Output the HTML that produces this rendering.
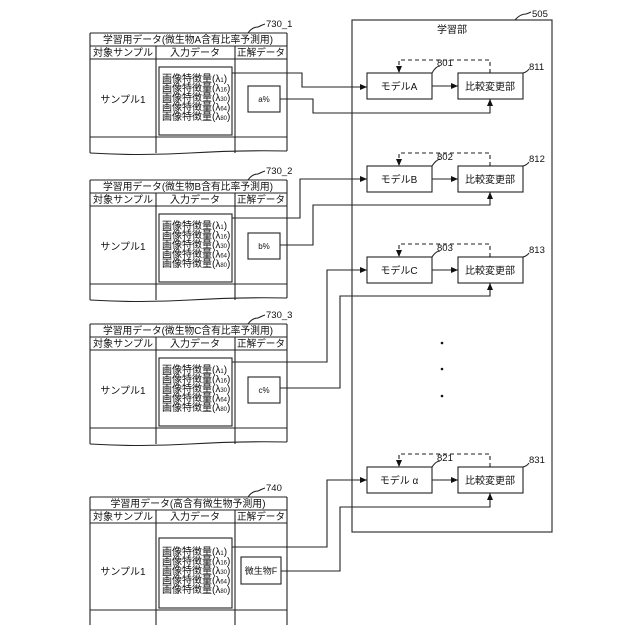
<!DOCTYPE html>
<html><head><meta charset="utf-8"><style>
body{margin:0;background:#fff}
svg{display:block}
text{font-family:"Liberation Sans","Noto Sans CJK JP",sans-serif;fill:#111}
</style></head><body>
<svg width="640" height="640" viewBox="0 0 640 640" xmlns="http://www.w3.org/2000/svg">
<defs>
<marker id="ar" markerWidth="8" markerHeight="8" refX="7" refY="4" orient="auto" markerUnits="userSpaceOnUse">
<path d="M0,1 L7,4 L0,7 Z" fill="#111"/></marker>
</defs>
<g stroke="#222" stroke-width="1.1" fill="none">

<g transform="translate(0,33)">
<path d="M90,0 H287 M90,13 H287 M90,26 H287 M90,104 H287 M90,0 V120 M287,0 V118 M156,13 V120 M235,13 V120"/>
<path d="M90,120 Q140,123 190,120 T287,118"/>
<rect x="159" y="34" width="73" height="68"/>
<rect x="248" y="53" width="32" height="26"/>
</g>
<g transform="translate(0,180)">
<path d="M90,0 H287 M90,13 H287 M90,26 H287 M90,104 H287 M90,0 V120 M287,0 V118 M156,13 V120 M235,13 V120"/>
<path d="M90,120 Q140,123 190,120 T287,118"/>
<rect x="159" y="34" width="73" height="68"/>
<rect x="248" y="53" width="32" height="26"/>
</g>
<g transform="translate(0,324)">
<path d="M90,0 H287 M90,13 H287 M90,26 H287 M90,104 H287 M90,0 V120 M287,0 V118 M156,13 V120 M235,13 V120"/>
<path d="M90,120 Q140,123 190,120 T287,118"/>
<rect x="159" y="34" width="73" height="68"/>
<rect x="248" y="53" width="32" height="26"/>
</g>
<g transform="translate(0,497)">
<path d="M90,0 H287 M90,13 H287 M90,26 H287 M90,113 H287 M90,0 V128 M287,0 V128 M156,13 V128 M235,13 V128"/>
<rect x="159" y="41" width="73" height="70"/>
<rect x="241" y="60" width="40" height="27"/>
</g>

<rect x="352" y="20" width="200" height="512"/>
<path d="M515,20 Q520,14 526,14 Q529,13 531,12"/>

<rect x="367" y="73" width="65" height="26"/>
<rect x="458" y="73" width="65" height="26"/>
<rect x="367" y="166" width="65" height="26"/>
<rect x="458" y="166" width="65" height="26"/>
<rect x="367" y="257" width="65" height="26"/>
<rect x="458" y="257" width="65" height="26"/>
<rect x="367" y="467" width="65" height="26"/>
<rect x="458" y="467" width="65" height="26"/>

<path d="M432,86 H458" marker-end="url(#ar)"/>
<path d="M432,179 H458" marker-end="url(#ar)"/>
<path d="M432,270 H458" marker-end="url(#ar)"/>
<path d="M432,480 H458" marker-end="url(#ar)"/>

<path d="M490,73 V60 H399 V73" stroke-dasharray="4,3" marker-end="url(#ar)"/>
<path d="M490,166 V153 H399 V166" stroke-dasharray="4,3" marker-end="url(#ar)"/>
<path d="M490,257 V244 H399 V257" stroke-dasharray="4,3" marker-end="url(#ar)"/>
<path d="M490,467 V454 H399 V467" stroke-dasharray="4,3" marker-end="url(#ar)"/>

<path d="M232,73 H302 V87 H367" marker-end="url(#ar)"/>
<path d="M232,218 H300 V179 H367" marker-end="url(#ar)"/>
<path d="M232,362 H327 V270 H367" marker-end="url(#ar)"/>
<path d="M232,547 H327 V480 H367" marker-end="url(#ar)"/>
<path d="M280,99 H313 V113 H490 V99" marker-end="url(#ar)"/>
<path d="M280,245 H313 V205 H490 V192" marker-end="url(#ar)"/>
<path d="M280,388 H340 V296 H490 V283" marker-end="url(#ar)"/>
<path d="M281,571 H340 V507 H490 V493" marker-end="url(#ar)"/>

<path d="M432,73 Q436,66 440,66"/>
<path d="M523,73 Q527,72 529,69"/>
<path d="M432,166 Q436,160 440,159"/>
<path d="M523,166 Q527,165 529,162"/>
<path d="M432,257 Q436,251 440,251"/>
<path d="M523,257 Q527,256 529,253"/>
<path d="M432,467 Q436,461 440,461"/>
<path d="M523,467 Q527,466 529,463"/>
<path d="M248,33 Q252,27 258,27 Q262,25 265,24"/>
<path d="M248,180 Q252,174 258,174 Q262,172 265,171"/>
<path d="M248,324 Q252,318 258,318 Q262,316 265,315"/>
<path d="M248,497 Q252,491 258,491 Q262,489 265,488"/>
</g>

<g fill="#111"><circle cx="442" cy="343" r="1.3"/><circle cx="442" cy="369" r="1.3"/><circle cx="442" cy="396" r="1.3"/></g>

<g font-size="9.5">
<text x="266" y="27">730_1</text>
<text x="266" y="174">730_2</text>
<text x="266" y="318">730_3</text>
<text x="266" y="491">740</text>
<text x="532" y="17">505</text>
<text x="437" y="66">801</text><text x="529" y="70">811</text>
<text x="437" y="160">802</text><text x="529" y="162">812</text>
<text x="437" y="251">803</text><text x="529" y="253">813</text>
<text x="437" y="461">821</text><text x="529" y="463">831</text>
</g>

<g font-size="10" text-anchor="middle">
<text x="452" y="33">学習部</text>
<text x="399" y="90">モデルA</text><text x="490" y="90">比較変更部</text>
<text x="399" y="183">モデルB</text><text x="490" y="183">比較変更部</text>
<text x="399" y="274">モデルC</text><text x="490" y="274">比較変更部</text>
<text x="399" y="484">モデル α</text><text x="490" y="484">比較変更部</text>
</g>

<g font-size="10" text-anchor="middle">
<g transform="translate(0,33)">
<text x="188" y="10" textLength="170" lengthAdjust="spacingAndGlyphs">学習用データ(微生物A含有比率予測用)</text>
<text x="123" y="23" textLength="60" lengthAdjust="spacingAndGlyphs">対象サンプル</text><text x="195" y="23">入力データ</text><text x="261" y="23" textLength="48" lengthAdjust="spacingAndGlyphs">正解データ</text>
<text x="123" y="70">サンプル1</text>
<text x="264" y="69" font-size="8">a%</text>
</g>
<g transform="translate(0,180)">
<text x="188" y="10" textLength="170" lengthAdjust="spacingAndGlyphs">学習用データ(微生物B含有比率予測用)</text>
<text x="123" y="23" textLength="60" lengthAdjust="spacingAndGlyphs">対象サンプル</text><text x="195" y="23">入力データ</text><text x="261" y="23" textLength="48" lengthAdjust="spacingAndGlyphs">正解データ</text>
<text x="123" y="70">サンプル1</text>
<text x="264" y="69" font-size="8">b%</text>
</g>
<g transform="translate(0,324)">
<text x="188" y="10" textLength="170" lengthAdjust="spacingAndGlyphs">学習用データ(微生物C含有比率予測用)</text>
<text x="123" y="23" textLength="60" lengthAdjust="spacingAndGlyphs">対象サンプル</text><text x="195" y="23">入力データ</text><text x="261" y="23" textLength="48" lengthAdjust="spacingAndGlyphs">正解データ</text>
<text x="123" y="70">サンプル1</text>
<text x="264" y="69" font-size="8">c%</text>
</g>
<g transform="translate(0,497)">
<text x="188" y="10" textLength="155" lengthAdjust="spacingAndGlyphs">学習用データ(高含有微生物予測用)</text>
<text x="123" y="23" textLength="60" lengthAdjust="spacingAndGlyphs">対象サンプル</text><text x="195" y="23">入力データ</text><text x="261" y="23" textLength="48" lengthAdjust="spacingAndGlyphs">正解データ</text>
<text x="123" y="78">サンプル1</text>
<text x="261" y="77" font-size="9">微生物F</text>
</g>
</g>

<g font-size="10">
<g transform="translate(162,82)">
<text y="0">画像特徴量(λ<tspan font-size="6">1</tspan>)</text>
<text y="9.5">画像特徴量(λ<tspan font-size="6">16</tspan>)</text>
<text y="19">画像特徴量(λ<tspan font-size="6">30</tspan>)</text>
<text y="28.5">画像特徴量(λ<tspan font-size="6">64</tspan>)</text>
<text y="38">画像特徴量(λ<tspan font-size="6">80</tspan>)</text>
</g>
<g transform="translate(162,229)">
<text y="0">画像特徴量(λ<tspan font-size="6">1</tspan>)</text>
<text y="9.5">画像特徴量(λ<tspan font-size="6">16</tspan>)</text>
<text y="19">画像特徴量(λ<tspan font-size="6">30</tspan>)</text>
<text y="28.5">画像特徴量(λ<tspan font-size="6">64</tspan>)</text>
<text y="38">画像特徴量(λ<tspan font-size="6">80</tspan>)</text>
</g>
<g transform="translate(162,373)">
<text y="0">画像特徴量(λ<tspan font-size="6">1</tspan>)</text>
<text y="9.5">画像特徴量(λ<tspan font-size="6">16</tspan>)</text>
<text y="19">画像特徴量(λ<tspan font-size="6">30</tspan>)</text>
<text y="28.5">画像特徴量(λ<tspan font-size="6">64</tspan>)</text>
<text y="38">画像特徴量(λ<tspan font-size="6">80</tspan>)</text>
</g>
<g transform="translate(162,555)">
<text y="0">画像特徴量(λ<tspan font-size="6">1</tspan>)</text>
<text y="9.5">画像特徴量(λ<tspan font-size="6">16</tspan>)</text>
<text y="19">画像特徴量(λ<tspan font-size="6">30</tspan>)</text>
<text y="28.5">画像特徴量(λ<tspan font-size="6">64</tspan>)</text>
<text y="38">画像特徴量(λ<tspan font-size="6">80</tspan>)</text>
</g>
</g>
</svg>
</body></html>
